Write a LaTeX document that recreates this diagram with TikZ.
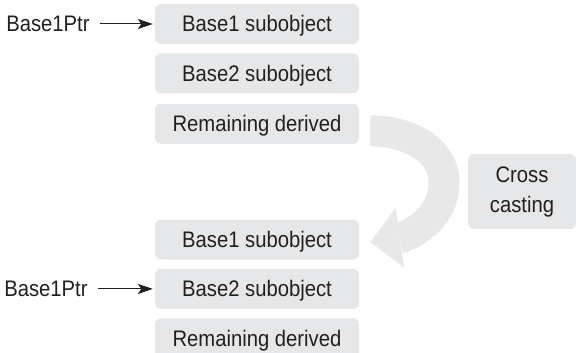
\documentclass[tikz,border=0pt]{standalone}
\usepackage{fontspec}
\setmainfont{Liberation Sans}[FakeStretch=0.9]
\usepackage{tikz}
\usetikzlibrary{arrows.meta,positioning}

\definecolor{ink}{RGB}{35,31,32}
\definecolor{boxgray}{RGB}{230,231,232}
\definecolor{bandgray}{RGB}{232,232,233}

\begin{document}
\begin{tikzpicture}[
  x=1pt, y=1pt,
  every node/.style={text=ink, font=\fontsize{22.5pt}{30pt}\selectfont},
  blk/.style={fill=boxgray, rounded corners=6pt, minimum width=204pt, minimum height=40pt,
    inner sep=0pt, text height=17pt, text depth=1pt},
  cast/.style={fill=boxgray, rounded corners=6pt, minimum width=108pt, minimum height=75pt,
    inner sep=0pt, align=center},
  ptr/.style={inner sep=0pt},
  ar/.style={-{Stealth[length=15pt,width=10pt,inset=3.5pt]}, draw=ink, line width=1pt},
  band/.style={draw=bandgray, line width=31pt,
    -{Triangle[width=60pt,length=30pt,line width=0pt]}}
]
\useasboundingbox (0,0) rectangle (576,-353);
% before the cast
\node[blk] (b1top) at (257,-24) {Base1 subobject};
\node[blk, below=9pt of b1top] (b2top) {Base2 subobject};
\node[blk, below=10pt of b2top] (remtop) {Remaining derived};
% after the cast
\node[blk] (b1bot) at (257,-239.5) {Base1 subobject};
\node[blk, below=9pt of b1bot] (b2bot) {Base2 subobject};
\node[blk, below=9pt of b2bot] (rembot) {Remaining derived};
\node[cast] (cross) at (522,-191.5) {Cross\\casting};
\node[ptr, left=65pt of b1top] (ptrtop) {Base1Ptr};
\node[ptr, left=67pt of b2bot] (ptrbot) {Base1Ptr};
\draw[ar, shorten <=10pt, shorten >=2pt] (ptrtop) -- (b1top);
\draw[ar, shorten <=10pt, shorten >=2pt] (ptrbot) -- (b2bot);
\coordinate (bend) at (444,-183);
\draw[band] ([shift={(11pt,-7pt)}]remtop.east) to[out=0,in=90] (bend)
  to[out=-90,in=8] ([shift={(11pt,-2.5pt)}]b1bot.east);
\end{tikzpicture}
\end{document}
